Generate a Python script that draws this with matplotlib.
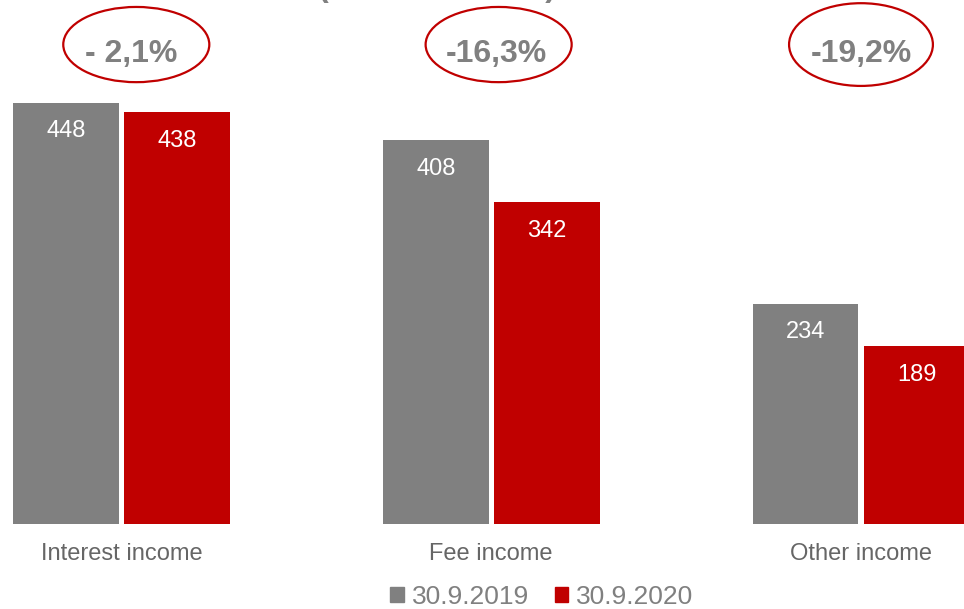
import matplotlib.pyplot as plt
import numpy as np
from matplotlib.patches import Ellipse, Patch

plt.rcParams['font.family'] = ['Liberation Sans', 'DejaVu Sans']

categories = ['Interest income', 'Fee income', 'Other income']
values_2019 = [448, 408, 234]
values_2020 = [438, 342, 189]
changes = ['- 2,1%', '-16,3%', '-19,2%']
series_labels = ['30.9.2019', '30.9.2020']

GREY = '#808080'
RED = '#C00000'


def main():
    fig = plt.figure(figsize=(9.64, 6.09), dpi=100)
    ax = fig.add_axes([0, 85 / 609, 1, 524 / 609])

    x = np.arange(len(categories))
    w = 0.286
    ax.bar(x - 0.15, values_2019, w, color=GREY)
    ax.bar(x + 0.15, values_2020, w, color=RED)

    # value labels sit inside the top of each bar
    for xs, vals in ((x - 0.15, values_2019), (x + 0.15, values_2020)):
        for xi, v in zip(xs, vals):
            ax.annotate(str(v), (xi, v), xytext=(0, -20.5), textcoords='offset points',
                        ha='center', va='center', color='white', fontsize=17)

    for xi, cat in zip(x, categories):
        ax.annotate(cat, (xi, 0), xytext=(0, -21.5), textcoords='offset points',
                    ha='center', va='center', color='#666666', fontsize=17,
                    annotation_clip=False)

    # change bubbles above each group
    ell_dx = [0.04, 0.02, 0.0]
    txt_dx = [0.025, 0.015, 0.0]
    ell_w = [0.395, 0.395, 0.389]
    ell_h = [80, 80, 88]
    for xi, ch, edx, tdx, ew, eh in zip(x, changes, ell_dx, txt_dx, ell_w, ell_h):
        ax.add_patch(Ellipse((xi + edx, 510), ew, eh, fill=False, edgecolor=RED,
                             linewidth=1.6, clip_on=False))
        ax.text(xi + tdx, 500, ch, ha='center', va='center', color=GREY,
                fontsize=23, fontweight='bold')

    ax.set_xlim(-0.3286, 2.2786)
    ax.set_ylim(0, 557.4)
    ax.axis('off')

    fig.text(437 / 964, 1 + 4 / 609, '(in EUR million)', ha='center', va='baseline',
             color=GREY, fontsize=23, fontweight='bold')

    handles = [Patch(color=GREY), Patch(color=RED)]
    fig.legend(handles, series_labels, loc='center', bbox_to_anchor=(542 / 964, 1 - 597 / 609),
               ncol=2, frameon=False, fontsize=19, labelcolor=GREY,
               handlelength=0.5, handleheight=0.5, handletextpad=0.3, columnspacing=1.0,
               borderpad=0, borderaxespad=0)

    fig.savefig('out.png', dpi=100)


if __name__ == "__main__":
    main()
